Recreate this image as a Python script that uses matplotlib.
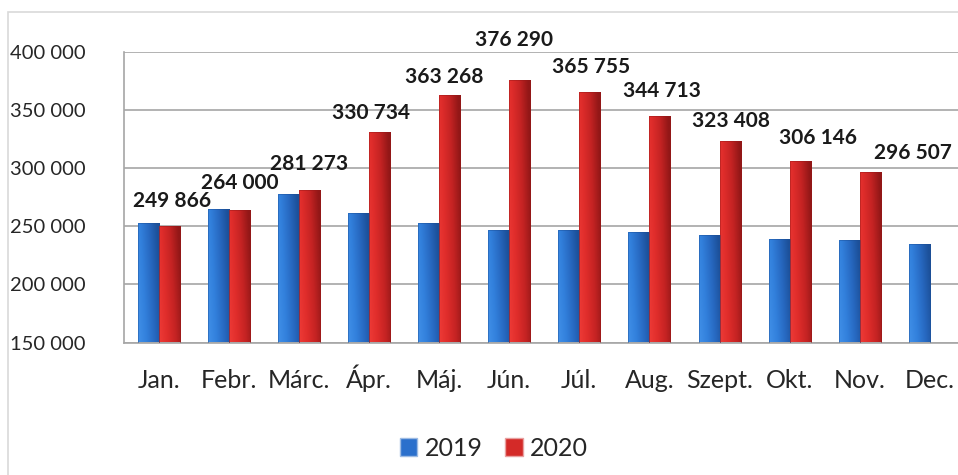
import matplotlib
matplotlib.use("Agg")
import matplotlib.pyplot as plt
import numpy as np
from matplotlib.colors import LinearSegmentedColormap
from matplotlib.patches import Rectangle, Patch

months = ["Jan.", "Febr.", "Márc.", "Ápr.", "Máj.", "Jún.", "Júl.", "Aug.",
          "Szept.", "Okt.", "Nov.", "Dec."]
series_2019 = [253200, 264600, 277500, 261300, 253000, 247200, 247200, 244900,
               242700, 239400, 238000, 234500]
series_2020 = [249866, 264000, 281273, 330734, 363268, 376290, 365755, 344713,
               323408, 306146, 296507]
labels_2020 = ["249 866", "264 000", "281 273", "330 734", "363 268", "376 290",
               "365 755", "344 713", "323 408", "306 146", "296 507"]
yticks = [150000, 200000, 250000, 300000, 350000, 400000]
ytick_labels = ["150 000", "200 000", "250 000", "300 000", "350 000", "400 000"]

# label offsets in pixels (dx, dy) relative to top-centre of the 2020 bar
label_offsets = [(3, 25), (1, 27), (0, 26), (-8, 19), (-5, 18), (-6, 40),
                 (1, 25), (2, 25), (1, 20), (18, 23), (43, 19)]

W, H = 958, 475
fig = plt.figure(figsize=(W / 100, H / 100), dpi=100)
fig.patch.set_facecolor("white")

# outer chart border (light gray)
fig.add_artist(Rectangle((8 / W, -0.1), 2, (H - 12) / H + 0.1, transform=fig.transFigure,
                         fill=False, edgecolor="#d9d9d9", linewidth=1.2))

ax_left, ax_right, ax_top, ax_bottom = 123.5, 965, 52, 342.5
ax = fig.add_axes([ax_left / W, 1 - ax_bottom / H, (ax_right - ax_left) / W,
                   (ax_bottom - ax_top) / H])
ax.set_xlim(-0.5, len(months) - 0.5)
ax.set_ylim(yticks[0], yticks[-1])

for s in ["top", "right"]:
    ax.spines[s].set_visible(False)
for s in ["left", "bottom"]:
    ax.spines[s].set_color("#a6a6a6")
    ax.spines[s].set_linewidth(1.2)
ax.set_yticks(yticks)
ax.grid(axis="y", color="#a6a6a6", linewidth=1.2)
ax.set_axisbelow(True)
ax.tick_params(axis="both", length=0)

font = "Lato"
ax.set_yticklabels(ytick_labels, fontsize=14.5, family=font, color="#262626")
for t in ax.get_yticklabels():
    t.set_horizontalalignment("left")
ax.tick_params(axis="y", pad=(ax_left - 10) * 0.72)
ax.set_xticks(np.arange(len(months)))
ax.set_xticklabels(months, fontsize=18, family=font, color="#262626")
for t in ax.get_xticklabels():
    t.set_verticalalignment("baseline")
ax.tick_params(axis="x", pad=(388 - ax_bottom) * 0.72)

bw = 0.30
x = np.arange(len(months))

blue_cmap = LinearSegmentedColormap.from_list(
    "b", ["#4190e8", "#3280dc", "#2768c0", "#1c5099"])
red_cmap = LinearSegmentedColormap.from_list(
    "r", ["#ee3b37", "#e02d2b", "#c42323", "#921717"])

def grad_bars(xs, vals, cmap, edge):
    bars = ax.bar(xs, [v - yticks[0] for v in vals], bw, bottom=yticks[0],
                  color="none", edgecolor="none", zorder=3)
    gx = np.linspace(0, 1, 60)
    gy = np.linspace(0, 1, 60)
    GX, GY = np.meshgrid(gx, gy)
    grad = np.clip(GX * 0.85 + (1 - GY) * 0.25, 0, 1)
    for b in bars:
        x0, y0 = b.get_x(), b.get_y()
        w, h = b.get_width(), b.get_height()
        im = ax.imshow(grad, cmap=cmap, vmin=0, vmax=1, extent=[x0, x0 + w, y0, y0 + h],
                       origin="upper", aspect="auto", zorder=3, interpolation="bilinear")
        im.set_clip_path(b)
        ax.add_patch(Rectangle((x0, y0), w, h, fill=False, edgecolor=edge,
                               linewidth=0.6, zorder=4, alpha=0.5))
    return bars

grad_bars(x - bw / 2, series_2019, blue_cmap, "#1a4d94")
red_bars = grad_bars(x[:len(series_2020)] + bw / 2, series_2020, red_cmap, "#921717")
ax.set_xlim(-0.5, len(months) - 0.5)
ax.set_ylim(yticks[0], yticks[-1])

for b, lab, (dx, dy) in zip(red_bars, labels_2020, label_offsets):
    ax.annotate(lab, (b.get_x() + b.get_width() / 2, b.get_y() + b.get_height()),
                xytext=(dx * 0.72, dy * 0.72), textcoords="offset points",
                ha="center", va="center", fontsize=15, fontweight="bold",
                family=font, color="#1a1a1a", annotation_clip=False, zorder=6)

# legend
handles = [Patch(facecolor="#2b70cc", edgecolor="#9dbbe3", label="2019"),
           Patch(facecolor="#d42a28", edgecolor="#e8a0a0", label="2020")]
fig.legend(handles=handles, loc="center", bbox_to_anchor=(494 / W, 1 - 448 / H),
           ncol=2, frameon=False, prop={"family": font, "size": 18},
           handlelength=0.7, handleheight=0.7, handletextpad=0.3, columnspacing=0.9,
           labelcolor="#262626")

fig.savefig("out.png", dpi=100, facecolor="white")
